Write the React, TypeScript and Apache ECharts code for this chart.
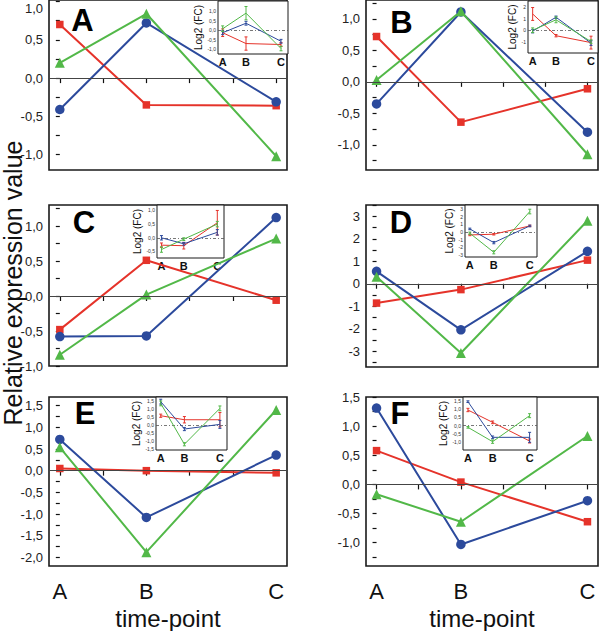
import React, { useEffect, useRef } from 'react';
import * as echarts from 'echarts';

// ---------- categories ----------
const timePoints = [0, 2, 5];
const timeLabels = ['A', 'B', 'C'];
const panelLetters = ['A', 'B', 'C', 'D', 'E', 'F'];

// ---------- main panels: relative expression value at A, B, C ----------
const redA = [0.70, -0.35, -0.36];
const blueA = [-0.41, 0.72, -0.31];
const greenA = [0.20, 0.84, -1.02];

const redB = [0.72, -0.64, -0.11];
const blueB = [-0.35, 1.11, -0.80];
const greenB = [0.03, 1.12, -1.15];

const redC = [-0.48, 0.51, -0.06];
const blueC = [-0.58, -0.57, 1.12];
const greenC = [-0.84, 0.02, 0.82];

const redD = [-0.86, -0.26, 1.05];
const blueD = [0.55, -2.05, 1.44];
const greenD = [0.31, -3.08, 2.80];

const redE = [0.05, 0.00, -0.05];
const blueE = [0.72, -1.08, 0.36];
const greenE = [0.54, -1.88, 1.40];

const redF = [0.58, 0.04, -0.64];
const blueF = [1.31, -1.03, -0.28];
const greenF = [-0.17, -0.64, 0.83];

// ---------- insets: Log2 (FC) means and error bars ----------
const insetRedA = [-0.12, -0.69, -0.74];
const insetRedErrA = [0.2, 0.35, 0.1];
const insetBlueA = [-0.12, 0.38, -0.57];
const insetBlueErrA = [0.1, 0.1, 0.1];
const insetGreenA = [0.09, 0.91, -0.95];
const insetGreenErrA = [0.15, 0.35, 0.12];

const insetRedB = [1.39, -0.47, -1.06];
const insetRedErrB = [0.55, 0.1, 0.55];
const insetBlueB = [-0.08, 1.11, -1.1];
const insetBlueErrB = [0.15, 0.1, 0.2];
const insetGreenB = [0.0, 0.89, -0.97];
const insetGreenErrB = [0.2, 0.25, 0.15];

const insetRedC = [-0.27, -0.29, 0.55];
const insetRedErrC = [0.08, 0.12, 0.45];
const insetBlueC = [0.0, -0.22, 0.2];
const insetBlueErrC = [0.08, 0.05, 0.1];
const insetGreenC = [-0.43, -0.05, 0.5];
const insetGreenErrC = [0.1, 0.05, 0.1];

const insetRedD = [-0.39, -0.3, 0.78];
const insetRedErrD = [0.1, 0.1, 0.1];
const insetBlueD = [0.39, -1.39, 0.78];
const insetBlueErrD = [0.1, 0.15, 0.1];
const insetGreenD = [-0.17, -2.65, 2.65];
const insetGreenErrD = [0.15, 0.2, 0.3];

const insetRedE = [0.58, 0.33, 0.33];
const insetRedErrE = [0.1, 0.2, 0.45];
const insetBlueE = [1.46, -0.25, 0.04];
const insetBlueErrE = [0.15, 0.1, 0.25];
const insetGreenE = [1.35, -1.2, 1.04];
const insetGreenErrE = [0.15, 0.1, 0.15];

const insetRedF = [0.94, 0.2, -0.92];
const insetRedErrF = [0.1, 0.08, 0.12];
const insetBlueF = [1.44, -0.7, -0.7];
const insetBlueErrF = [0.05, 0.08, 0.3];
const insetGreenF = [-0.1, -0.96, 0.6];
const insetGreenErrF = [0.05, 0.1, 0.12];

// ---------- axis ranges and tick labels ----------
const mainYRanges = [[-1.2, 1.02], [-1.4, 1.3], [-1.0, 1.3], [-3.7, 3.5], [-2.2, 1.7], [-1.4, 1.5]];
const mainYLabels = [
  [-1, -0.5, 0, 0.5, 1],
  [-1, -0.5, 0, 0.5, 1],
  [-1, -0.5, 0, 0.5, 1],
  [-3, -2, -1, 0, 1, 2, 3],
  [-2, -1.5, -1, -0.5, 0, 0.5, 1, 1.5],
  [-1, -0.5, 0, 0.5, 1, 1.5],
];
const mainYStep = [0.25, 0.25, 0.25, 0.5, 0.25, 0.25];
const mainYDecimals = [1, 1, 1, 0, 1, 1];

const insetYRanges = [[-1.24, 1.55], [-1.95, 2.5], [-0.74, 1.2], [-3.26, 3.5], [-1.56, 1.75], [-1.46, 1.72]];
const insetYLabels = [
  [-1, -0.5, 0, 0.5, 1],
  [-2, -1, 0, 1, 2],
  [-0.5, 0, 0.5, 1],
  [-3, -2, -1, 0, 1, 2, 3],
  [-1.5, -1, -0.5, 0, 0.5, 1, 1.5],
  [-1, -0.5, 0, 0.5, 1, 1.5],
];
const insetYDecimals = [1, 0, 1, 0, 1, 1];
const xTickValues = [0, 1, 2, 3, 4, 5];

// ---------- layout (pixels) ----------
const mainGrids = [
  { left: 49, top: 0, width: 238, height: 170 },
  { left: 366, top: 0, width: 232, height: 170 },
  { left: 49, top: 205, width: 238, height: 161 },
  { left: 366, top: 205, width: 232, height: 162 },
  { left: 49, top: 397, width: 238, height: 169 },
  { left: 366, top: 397, width: 232, height: 169 },
];
const insetGrids = [
  { left: 218, top: 1, width: 70, height: 53 },
  { left: 528, top: 1, width: 70, height: 52 },
  { left: 157, top: 205, width: 67, height: 53 },
  { left: 465, top: 205, width: 72, height: 52 },
  { left: 156, top: 397, width: 71, height: 53 },
  { left: 463, top: 397, width: 74, height: 53 },
];
const letterPos = [[82.5, 20], [401.5, 22.5], [84, 222.5], [401, 222.5], [85, 413], [400, 413.5]];

const RED = '#e5332a';
const BLUE = '#2c4a9c';
const GREEN = '#52b848';
const FONT = '"Liberation Sans", Arial, sans-serif';

const fmt = (v: number, dec: number) =>
  dec === 0 ? String(Math.round(v)) : (Math.abs(v) < 1e-9 ? 0 : v).toFixed(1).replace('.', ',');

const tickRange = (min: number, max: number, step: number) => {
  const out: number[] = [];
  for (let k = Math.ceil(min / step - 1e-9); k * step <= max + 1e-9; k++) out.push(+(k * step).toFixed(4));
  return out;
};

const xLabel = (v: number) => {
  const i = timePoints.indexOf(Math.round(v));
  return i >= 0 ? timeLabels[i] : '';
};

function buildOption() {
  const mainData = [
    [redA, blueA, greenA],
    [redB, blueB, greenB],
    [redC, blueC, greenC],
    [redD, blueD, greenD],
    [redE, blueE, greenE],
    [redF, blueF, greenF],
  ];
  const insetData = [
    [[insetRedA, insetRedErrA], [insetBlueA, insetBlueErrA], [insetGreenA, insetGreenErrA]],
    [[insetRedB, insetRedErrB], [insetBlueB, insetBlueErrB], [insetGreenB, insetGreenErrB]],
    [[insetRedC, insetRedErrC], [insetBlueC, insetBlueErrC], [insetGreenC, insetGreenErrC]],
    [[insetRedD, insetRedErrD], [insetBlueD, insetBlueErrD], [insetGreenD, insetGreenErrD]],
    [[insetRedE, insetRedErrE], [insetBlueE, insetBlueErrE], [insetGreenE, insetGreenErrE]],
    [[insetRedF, insetRedErrF], [insetBlueF, insetBlueErrF], [insetGreenF, insetGreenErrF]],
  ];
  const colors = [RED, BLUE, GREEN];
  const symbols = ['rect', 'circle', 'triangle'];
  const symbolSizes = [7.5, 9.5, 10];

  const grid: any[] = [];
  const xAxis: any[] = [];
  const yAxis: any[] = [];
  const series: any[] = [];

  mainGrids.forEach((g, i) => {
    grid.push({ ...g, show: true, borderColor: '#1a1a1a', borderWidth: 1.6, backgroundColor: 'transparent', containLabel: false, outerBoundsMode: 'none' });
    const bottomRow = i >= 4;
    xAxis.push({
      type: 'value', gridIndex: i, min: -0.25, max: 5.25,
      axisLine: { show: false }, splitLine: { show: false },
      axisTick: { show: true, inside: false, length: 5, customValues: xTickValues, lineStyle: { color: '#111', width: 1.2 } },
      axisLabel: { show: bottomRow, customValues: timePoints, formatter: xLabel, fontSize: 22, color: '#111', margin: 14, fontFamily: FONT },
      name: bottomRow ? 'time-point' : '', nameLocation: 'middle', nameGap: 40,
      nameTextStyle: { fontSize: 24, color: '#111', fontFamily: FONT },
    });
    const [ymin, ymax] = mainYRanges[i];
    yAxis.push({
      type: 'value', gridIndex: i, min: ymin, max: ymax,
      axisLine: { show: false }, splitLine: { show: false },
      axisTick: { show: true, inside: false, length: 4, customValues: tickRange(ymin, ymax, mainYStep[i]), lineStyle: { color: '#111', width: 1.2 } },
      axisLabel: {
        customValues: mainYLabels[i], formatter: (v: number) => fmt(v, mainYDecimals[i]),
        fontSize: 13, color: '#222', margin: 6, fontFamily: FONT,
        verticalAlignMaxLabel: i === 0 ? 'top' : undefined,
      },
    });
    mainData[i].forEach((arr, s) => {
      series.push({
        type: 'line', xAxisIndex: i, yAxisIndex: i,
        data: timePoints.map((t, k) => [t, arr[k]]),
        symbol: symbols[s], symbolSize: symbolSizes[s],
        lineStyle: { color: colors[s], width: 2 }, itemStyle: { color: colors[s] },
        z: 3,
        markLine: s === 0 ? {
          silent: true, symbol: 'none', label: { show: false },
          lineStyle: { color: '#444', width: 1, type: 'solid' },
          data: [{ yAxis: 0 }],
        } : undefined,
      });
    });
  });

  insetGrids.forEach((g, j) => {
    const gi = 6 + j;
    grid.push({ ...g, show: true, borderColor: '#1a1a1a', borderWidth: 1, backgroundColor: '#fff', containLabel: false, outerBoundsMode: 'none', z: 5 });
    xAxis.push({
      type: 'value', gridIndex: gi, min: -0.4, max: 5.6,
      axisLine: { show: false }, splitLine: { show: false },
      axisTick: { show: true, inside: true, length: 2, customValues: xTickValues, lineStyle: { color: '#111', width: 0.8 } },
      axisLabel: { customValues: timePoints, formatter: xLabel, fontSize: 11, fontWeight: 'bold', color: '#111', margin: 2, fontFamily: FONT },
    });
    const [ymin, ymax] = insetYRanges[j];
    yAxis.push({
      type: 'value', gridIndex: gi, min: ymin, max: ymax,
      axisLine: { show: false }, splitLine: { show: false },
      axisTick: { show: true, inside: true, length: 2, customValues: insetYLabels[j], lineStyle: { color: '#111', width: 0.8 } },
      axisLabel: { customValues: insetYLabels[j], formatter: (v: number) => fmt(v, insetYDecimals[j]), fontSize: 5, color: '#333', margin: 2, fontFamily: FONT },
      name: 'Log2 (FC)', nameLocation: 'middle', nameRotate: 90, nameGap: 11,
      nameTextStyle: { fontSize: 10, color: '#111', fontFamily: FONT },
    });
    insetData[j].forEach(([vals, errs], s) => {
      series.push({
        type: 'line', xAxisIndex: gi, yAxisIndex: gi,
        data: timePoints.map((t, k) => [t, vals[k]]),
        symbol: 'none', lineStyle: { color: colors[s], width: 1 }, z: 6,
        markLine: s === 0 ? {
          silent: true, symbol: 'none', label: { show: false },
          lineStyle: { color: '#555', width: 0.8, type: [3, 2, 1, 2] },
          data: [{ yAxis: 0 }],
        } : undefined,
      });
      const c = colors[s];
      series.push({
        type: 'custom', xAxisIndex: gi, yAxisIndex: gi, z: 7,
        data: timePoints.map((t, k) => [t, vals[k], errs[k]]),
        encode: { x: 0, y: 1 },
        renderItem: (_p: any, api: any) => {
          const x = api.value(0);
          const y = api.value(1);
          const e = api.value(2);
          const lo = api.coord([x, y - e]);
          const hi = api.coord([x, y + e]);
          const st = { stroke: c, lineWidth: 1 };
          return {
            type: 'group',
            children: [
              { type: 'line', shape: { x1: lo[0], y1: lo[1], x2: hi[0], y2: hi[1] }, style: st },
              { type: 'line', shape: { x1: lo[0] - 1.5, y1: lo[1], x2: lo[0] + 1.5, y2: lo[1] }, style: st },
              { type: 'line', shape: { x1: hi[0] - 1.5, y1: hi[1], x2: hi[0] + 1.5, y2: hi[1] }, style: st },
            ],
          };
        },
      });
    });
  });

  const graphic: any[] = panelLetters.map((L, i) => ({
    type: 'text', x: letterPos[i][0], y: letterPos[i][1], z: 10,
    style: { text: L, fontSize: 31, fontWeight: 'bold', fontFamily: FONT, fill: '#000', align: 'center', verticalAlign: 'middle' },
  }));
  graphic.push({
    type: 'text', x: 13, y: 283, rotation: Math.PI / 2, z: 10,
    style: { text: 'Relative expression value', fontSize: 25, fontFamily: FONT, fill: '#111', align: 'center', verticalAlign: 'middle' },
  });

  return {
    animation: false,
    backgroundColor: '#fff',
    textStyle: { fontFamily: FONT },
    grid, xAxis, yAxis, series, graphic,
  };
}

export default function App() {
  const ref = useRef<HTMLDivElement>(null);
  useEffect(() => {
    if (!ref.current) return;
    const chart = echarts.init(ref.current, undefined, { renderer: 'svg' });
    chart.setOption(buildOption() as any);
    return () => chart.dispose();
  }, []);
  return <div ref={ref} style={{ position: 'fixed', left: 0, top: 0, width: 600, height: 631 }} />;
}
